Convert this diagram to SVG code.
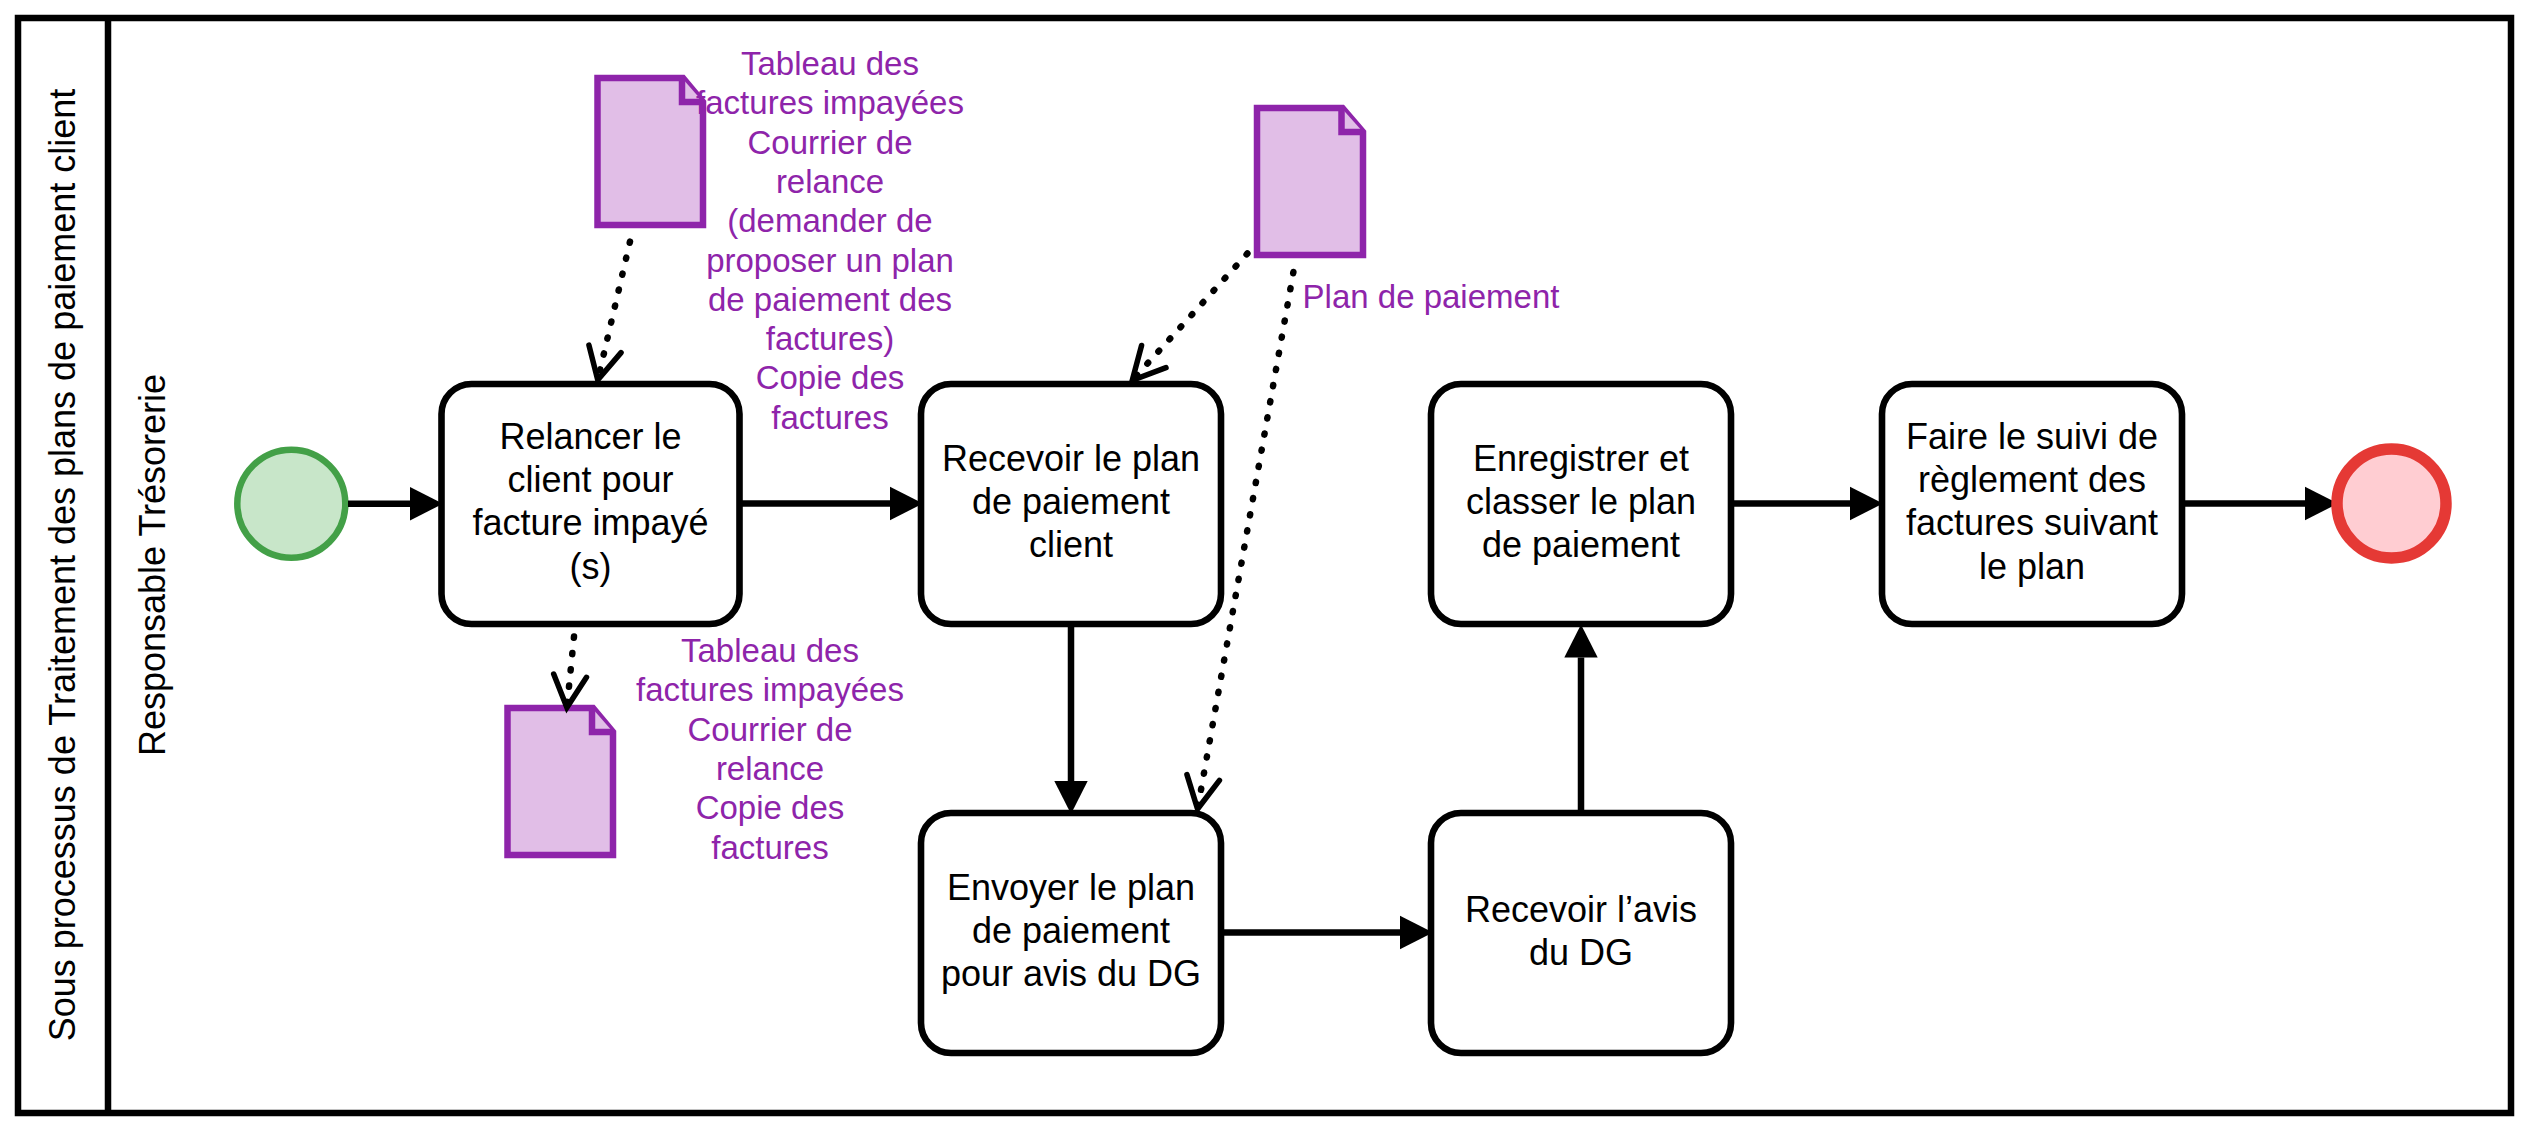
<svg xmlns="http://www.w3.org/2000/svg" width="2529" height="1131" viewBox="0 0 2529 1131">
<style>
text{font-family:"Liberation Sans",Arial,sans-serif;text-anchor:middle}
.t{font-size:36px;fill:#000}
.p{font-size:33px;fill:#8e24aa}
.lane{font-size:36px;fill:#000}
.task{fill:#fff;stroke:#000;stroke-width:6.6}
.doc{fill:#e1bee7;stroke:#8e24aa;stroke-width:6.5;stroke-linejoin:miter}
.flow{fill:none;stroke:#000;stroke-width:6.5;marker-end:url(#solid)}
.assoc{fill:none;stroke:#000;stroke-width:6.5;stroke-linecap:round;stroke-dasharray:1.2 15.2;marker-end:url(#open)}
</style>
<defs>
<marker id="solid" markerUnits="userSpaceOnUse" markerWidth="40" markerHeight="40" refX="0" refY="0" orient="auto" overflow="visible"><path d="M0,-16.7L33,0L0,16.7Z" fill="#000"/></marker>
<marker id="open" markerUnits="userSpaceOnUse" markerWidth="40" markerHeight="40" refX="0" refY="0" orient="auto" overflow="visible"><path d="M-33,-16.5L-1,0L-33,16.5" fill="none" stroke="#000" stroke-width="5.5" stroke-linecap="round"/></marker>
</defs>
<rect width="2529" height="1131" fill="#fff"/>
<g id="pool">
<rect x="18" y="18" width="2493" height="1095" fill="#fff" stroke="#000" stroke-width="6.5"/>
<line x1="108" y1="18" x2="108" y2="1113" stroke="#000" stroke-width="6.5"/>
<text class="lane" transform="translate(75,565) rotate(-90)">Sous processus de Traitement des plans de paiement client</text>
<text class="lane" transform="translate(165,565) rotate(-90)">Responsable Trésorerie</text>
</g>
<g id="doc1"><path class="doc" d="M597.5,78H683L703,102V225H597.5Z"/><path class="doc" d="M682,78V102H703"/></g>
<g id="doc2"><path class="doc" d="M1257,108H1342.5L1363,132V255H1257Z"/><path class="doc" d="M1341.5,108V132H1363"/></g>
<g id="doc3"><path class="doc" d="M507.5,708H593L613,732V855H507.5Z"/><path class="doc" d="M592,708V732H613"/></g>
<g id="start"><circle cx="291.3" cy="503.7" r="54" fill="#c8e6c9" stroke="#43a047" stroke-width="6.5"/></g>
<g id="task1"><rect class="task" x="441.5" y="384" width="298" height="240" rx="30"/>
<text class="t" x="590.5" y="449">Relancer le</text><text class="t" x="590.5" y="492">client pour</text><text class="t" x="590.5" y="535.3">facture impayé</text><text class="t" x="590.5" y="578.5">(s)</text></g>
<g id="task2"><rect class="task" x="921" y="384" width="300" height="240" rx="30"/>
<text class="t" x="1071" y="471">Recevoir le plan</text><text class="t" x="1071" y="514">de paiement</text><text class="t" x="1071" y="557">client</text></g>
<g id="task3"><rect class="task" x="921" y="813" width="300" height="240" rx="30"/>
<text class="t" x="1071" y="900">Envoyer le plan</text><text class="t" x="1071" y="943">de paiement</text><text class="t" x="1071" y="986">pour avis du DG</text></g>
<g id="task4"><rect class="task" x="1431" y="813" width="300" height="240" rx="30"/>
<text class="t" x="1581" y="921.5">Recevoir l’avis</text><text class="t" x="1581" y="964.7">du DG</text></g>
<g id="task5"><rect class="task" x="1431" y="384" width="300" height="240" rx="30"/>
<text class="t" x="1581" y="471">Enregistrer et</text><text class="t" x="1581" y="514">classer le plan</text><text class="t" x="1581" y="557">de paiement</text></g>
<g id="task6"><rect class="task" x="1882" y="384" width="300" height="240" rx="30"/>
<text class="t" x="2032" y="449">Faire le suivi de</text><text class="t" x="2032" y="492">règlement des</text><text class="t" x="2032" y="535.3">factures suivant</text><text class="t" x="2032" y="578.5">le plan</text></g>
<g id="connectors">
<path class="flow" d="M348,503.7H410"/>
<path class="flow" d="M742,503.5H890"/>
<path class="flow" d="M1071,627V781"/>
<path class="flow" d="M1224,932.5H1400"/>
<path class="flow" d="M1581,810V657.5"/>
<path class="flow" d="M1734,503.5H1850"/>
<path class="flow" d="M2185,503.5H2305"/>
<path class="assoc" d="M630,241.6L597.5,381"/>
<path class="assoc" d="M1247.4,253.5L1131.6,381"/>
<path class="assoc" d="M1293.4,272L1197.4,810"/>
<path class="assoc" d="M574,636.6L566.8,708.5"/>
</g>
<g id="end"><circle cx="2391.5" cy="503.5" r="54.5" fill="#ffcdd2" stroke="#e53935" stroke-width="11.5"/></g>
<g id="label1">
<text class="p" x="830" y="75">Tableau des</text><text class="p" x="830" y="114.3">factures impayées</text><text class="p" x="830" y="153.6">Courrier de</text><text class="p" x="830" y="193">relance</text><text class="p" x="830" y="232.2">(demander de</text><text class="p" x="830" y="271.5">proposer un plan</text><text class="p" x="830" y="310.8">de paiement des</text><text class="p" x="830" y="350.1">factures)</text><text class="p" x="830" y="389.4">Copie des</text><text class="p" x="830" y="428.7">factures</text>
</g>
<g id="label2">
<text class="p" x="770" y="662">Tableau des</text><text class="p" x="770" y="701.3">factures impayées</text><text class="p" x="770" y="740.6">Courrier de</text><text class="p" x="770" y="780">relance</text><text class="p" x="770" y="819.3">Copie des</text><text class="p" x="770" y="858.6">factures</text>
</g>
<g id="label3"><text class="p" x="1431" y="308">Plan de paiement</text></g>
</svg>
